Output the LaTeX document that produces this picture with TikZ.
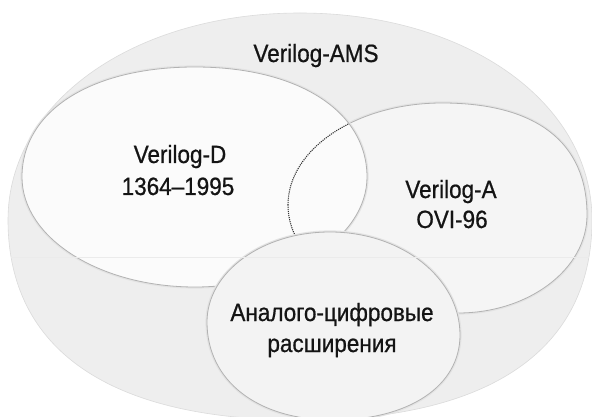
\documentclass[tikz,border=0pt]{standalone}
\usepackage{fontspec}
\setmainfont[FakeStretch=0.9, FakeBold=0.7]{Liberation Sans}
\definecolor{outerfill}{HTML}{EEEEEE}
\definecolor{dfill}{HTML}{FBFBFB}
\definecolor{afill}{HTML}{F5F5F5}
\definecolor{sfill}{HTML}{F3F3F3}
\definecolor{inktext}{HTML}{141414}
\def\outerpath{(8,220) .. controls (8,102) and (134,13) .. (300,13) .. controls (466,13) and (592,102) .. (592,220) .. controls (592,350) and (490,420) .. (300,420) .. controls (110,420) and (8,350) .. cycle}
\def\dpath{(22,177) .. controls (22,111) and (91,67) .. (195,67) .. controls (298,67) and (367,111) .. (367,177) .. controls (367,237.5) and (289.6,287) .. (195,287) .. controls (99.5,287) and (22,238) .. cycle}
\def\apath{(288,205) .. controls (288,148.7) and (357,103) .. (442,103) .. controls (536,103) and (587,142) .. (587,215) .. controls (587,269) and (529,313) .. (458,313) .. controls (364.5,313) and (288,264) .. cycle}
\def\spath{(207,322) .. controls (207,272.3) and (262,232) .. (330,232) .. controls (401.8,232) and (460,278) .. (460,335) .. controls (460,386) and (409,420) .. (333,420) .. controls (257.4,420) and (207,380.8) .. cycle}
\tikzset{
  halo/.style={line width=3.2pt, draw=black!11},
  rim/.style={line width=0.8pt, draw=black!30},
  lbl/.style={font=\fontsize{25}{30}\selectfont, text=inktext, inner sep=0pt, anchor=base},
  hidden/.style={draw=black!80, line width=1.1pt, densely dotted},
}
\begin{document}
\begin{tikzpicture}[x=1pt, y=-1pt]
\useasboundingbox (0,0) rectangle (592,417);
\fill[white] (0,0) rectangle (592,417);
% outer region
\fill[outerfill] \outerpath;
\draw[black!14, line width=0.6pt] \outerpath;
% Verilog-A region
\draw[halo] \apath;
\fill[afill] \apath;
\draw[rim] \apath;
% Verilog-D region
\draw[halo] \dpath;
\fill[dfill] \dpath;
\draw[rim] \dpath;
% hidden edge of Verilog-A inside Verilog-D
\begin{scope}
  \clip \dpath;
  \draw[hidden] \apath;
\end{scope}
% mixed-signal region
\draw[halo] \spath;
\fill[sfill] \spath;
\draw[rim] \spath;
% faint band line
\begin{scope}
  \clip \outerpath;
  \draw[black!8, line width=0.7pt] (0,257) -- (592,257);
\end{scope}
% labels
\node[lbl] (ams) at (316,62) {Verilog-AMS};
\node[lbl] (vd1) at (180,163) {Verilog-D};
\node[lbl] (vd2) at (178,195) {1364–1995};
\node[lbl] (va1) at (451,198) {Verilog-A};
\node[lbl] (va2) at (452,228) {OVI-96};
\node[lbl] (ad1) at (332,321) {Аналого-цифровые};
\node[lbl] (ad2) at (332,352) {расширения};
\end{tikzpicture}
\end{document}
